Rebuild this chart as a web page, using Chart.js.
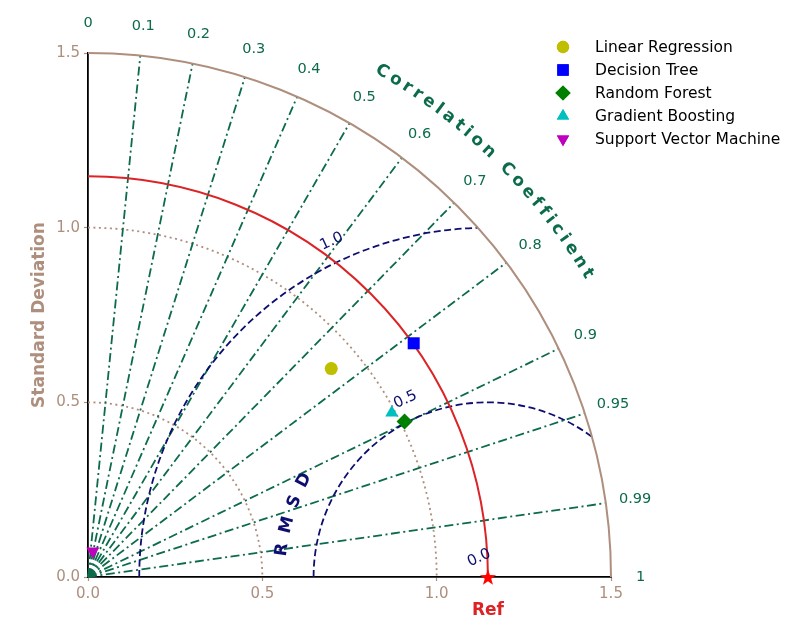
<!DOCTYPE html>
<html>
<head>
<meta charset="utf-8">
<title>Taylor diagram</title>
<script src="https://cdn.jsdelivr.net/npm/chart.js@4.4.1/dist/chart.umd.min.js"></script>
<style>
  html, body { margin: 0; padding: 0; background: #fff; }
  #wrap { width: 800px; height: 640px; }
</style>
</head>
<body>
<div id="wrap"><canvas id="taylor" width="800" height="640"></canvas></div>
<script>
// values
const models = ["Linear Regression", "Decision Tree", "Random Forest", "Gradient Boosting", "Support Vector Machine"];
const stdDev = [0.918, 1.149, 1.011, 0.990, 0.075];
const correlation = [0.760, 0.813, 0.898, 0.880, 0.186];
const refStd = 1.147;
const stdTicks = [0, 0.5, 1.0, 1.5];
const corrTicks = [0, 0.1, 0.2, 0.3, 0.4, 0.5, 0.6, 0.7, 0.8, 0.9, 0.95, 0.99, 1];
const rmsdLevels = [0.0, 0.5, 1.0];

const FONT = "'DejaVu Sans', sans-serif";
const BROWN = "#ae8f7e";
const GREEN = "#0c6b4c";
const NAVY = "#0e0e70";
const RED = "#dc2326";

const markers = [
  { pointStyle: "circle", radius: 6.5, rotation: 0, color: "#bfbf00" },
  { pointStyle: "rect", radius: 8.5, rotation: 0, color: "#0000ff" },
  { pointStyle: "rectRot", radius: 8, rotation: 0, color: "#008000" },
  { pointStyle: "triangle", radius: 7.5, rotation: 0, color: "#00bfbf" },
  { pointStyle: "triangle", radius: 7.5, rotation: 180, color: "#bf00bf" },
];

const starImg = document.createElement("canvas");
starImg.width = starImg.height = 20;
(() => {
  const c = starImg.getContext("2d");
  c.fillStyle = "#ff0000";
  c.beginPath();
  for (let i = 0; i < 10; i++) {
    const r = i % 2 ? 3.4 : 8.5;
    const a = -Math.PI / 2 + i * Math.PI / 5;
    c.lineTo(10 + r * Math.cos(a), 10.8 + r * Math.sin(a));
  }
  c.closePath();
  c.fill();
})();

const toXY = (s, c) => ({ x: s * c, y: s * Math.sqrt(Math.max(0, 1 - c * c)) });
const maxStd = stdTicks[stdTicks.length - 1];

const datasets = models.map((name, i) => ({
  label: name,
  data: [toXY(stdDev[i], correlation[i])],
  pointStyle: markers[i].pointStyle,
  pointRadius: markers[i].radius,
  pointRotation: markers[i].rotation,
  backgroundColor: markers[i].color,
  borderColor: markers[i].color,
  pointBorderWidth: 0,
  clip: false,
}));
datasets.push({
  label: "Ref",
  data: [{ x: refStd, y: 0 }],
  pointStyle: starImg,
  pointRadius: 9,
  clip: false,
});

const taylorPlugin = {
  id: "taylor",
  beforeDatasetsDraw(chart) {
    const { ctx, scales: { x, y } } = chart;
    const ox = x.getPixelForValue(0), oy = y.getPixelForValue(0);
    const kx = x.getPixelForValue(1) - ox, ky = oy - y.getPixelForValue(1);
    const arcPath = (cx, r, a0, a1) => {
      ctx.beginPath();
      ctx.ellipse(x.getPixelForValue(cx), oy, r * kx, r * ky, 0, -a1, -a0);
    };
    ctx.save();
    ctx.lineWidth = 1.8;

    // std dev dotted arcs
    ctx.strokeStyle = BROWN;
    ctx.setLineDash([2, 3.5]);
    stdTicks.filter((s) => s > 0 && s < maxStd).forEach((s) => {
      arcPath(0, s, 0, Math.PI / 2);
      ctx.stroke();
    });

    // correlation rays
    ctx.strokeStyle = GREEN;
    ctx.setLineDash([9, 3.5, 2, 3.5]);
    corrTicks.filter((c) => c > 0 && c < 1).forEach((c) => {
      const p = toXY(maxStd, c);
      ctx.beginPath();
      ctx.moveTo(ox, oy);
      ctx.lineTo(x.getPixelForValue(p.x), y.getPixelForValue(p.y));
      ctx.stroke();
    });

    // RMSD contours, clipped to the quadrant
    ctx.save();
    ctx.beginPath();
    ctx.moveTo(ox, oy);
    ctx.ellipse(ox, oy, maxStd * kx, maxStd * ky, 0, -Math.PI / 2, 0);
    ctx.closePath();
    ctx.clip();
    ctx.strokeStyle = NAVY;
    ctx.setLineDash([7, 3.5]);
    rmsdLevels.filter((r) => r > 0).forEach((r) => {
      arcPath(refStd, r, 0, Math.PI);
      ctx.stroke();
    });
    ctx.restore();

    // reference arc
    ctx.setLineDash([]);
    ctx.lineWidth = 2;
    ctx.strokeStyle = RED;
    arcPath(0, refStd, 0, Math.PI / 2);
    ctx.stroke();

    // outer arc
    ctx.strokeStyle = BROWN;
    arcPath(0, maxStd, 0, Math.PI / 2);
    ctx.stroke();
    ctx.restore();
  },
  afterDraw(chart) {
    const { ctx, scales: { x, y } } = chart;
    const ox = x.getPixelForValue(0), oy = y.getPixelForValue(0);
    const kx = x.getPixelForValue(1) - ox, ky = oy - y.getPixelForValue(1);
    const at = (cx, r, a) => [x.getPixelForValue(cx + r * Math.cos(a)), oy - r * Math.sin(a) * ky];
    ctx.save();
    ctx.textAlign = "center";
    ctx.textBaseline = "middle";

    // correlation tick labels
    ctx.fillStyle = GREEN;
    ctx.font = `14.5px ${FONT}`;
    corrTicks.forEach((c) => {
      const [px, py] = at(0, 1.585, Math.acos(c));
      ctx.fillText(String(c), px, py);
    });

    // curved text helper
    const curved = (text, cx, r, centerDeg, spacing) => {
      const R = r * kx;
      const widths = [...text].map((ch) => ctx.measureText(ch).width);
      const total = widths.reduce((a, b) => a + b, 0) + spacing * (text.length - 1);
      let off = 0;
      const a0 = centerDeg * Math.PI / 180 + total / 2 / R;
      [...text].forEach((ch, i) => {
        const a = a0 - (off + widths[i] / 2) / R;
        const [px, py] = at(cx, r, a);
        ctx.save();
        ctx.translate(px, py);
        ctx.rotate(Math.PI / 2 - a);
        ctx.fillText(ch, 0, 0);
        ctx.restore();
        off += widths[i] + spacing;
      });
    };
    ctx.font = `bold 17px ${FONT}`;
    curved("Correlation Coefficient", 0, 1.675, 45.6, 3.8);

    ctx.fillStyle = NAVY;
    curved("RMSD", refStd, 0.595, 162.3, 10);

    // RMSD contour labels
    ctx.font = `15px ${FONT}`;
    const la = 115 * Math.PI / 180;
    rmsdLevels.forEach((r) => {
      const [px, py] = at(refStd, r + 0.06, la);
      ctx.save();
      ctx.translate(px, py);
      ctx.rotate(Math.PI / 2 - la);
      ctx.fillText(r.toFixed(1), 0, 0);
      ctx.restore();
    });

    // axis titles
    ctx.font = `bold 17px ${FONT}`;
    ctx.fillStyle = RED;
    ctx.fillText("Ref", x.getPixelForValue(refStd), 611);
    ctx.fillStyle = BROWN;
    ctx.save();
    ctx.translate(40, (chart.chartArea.top + chart.chartArea.bottom) / 2);
    ctx.rotate(-Math.PI / 2);
    ctx.fillText("Standard Deviation", 0, 0);
    ctx.restore();

    // legend
    ctx.textAlign = "left";
    ctx.font = `15.5px ${FONT}`;
    models.forEach((name, i) => {
      const ly = 47 + i * 23;
      ctx.fillStyle = markers[i].color;
      Chart.helpers.drawPoint(ctx, {
        pointStyle: markers[i].pointStyle,
        radius: markers[i].radius * 0.95,
        rotation: markers[i].rotation,
        borderWidth: 0,
      }, 563, ly);
      ctx.fill();
      ctx.fillStyle = "#000";
      ctx.fillText(name, 595, ly + 1);
    });
    ctx.restore();
  },
};

const axis = (fit) => ({
  type: "linear",
  min: 0,
  max: maxStd,
  afterFit: fit,
  ticks: {
    stepSize: 0.5,
    color: BROWN,
    padding: 4,
    maxRotation: 0,
    font: { family: FONT, size: 15 },
    callback: (v) => Number(v).toFixed(1),
  },
  grid: { drawOnChartArea: false, color: BROWN, tickLength: 4, tickWidth: 1.2 },
  border: { color: "#000", width: 1.8 },
});

new Chart(document.getElementById("taylor"), {
  type: "scatter",
  data: { datasets },
  options: {
    responsive: false,
    animation: false,
    layout: { padding: { top: 53, right: 189, bottom: 0, left: 0 } },
    scales: {
      x: axis((s) => { s.height = 63; }),
      y: axis((s) => { s.width = 88; }),
    },
    plugins: { legend: { display: false }, tooltip: { enabled: false } },
  },
  plugins: [taylorPlugin],
});
</script>
</body>
</html>
